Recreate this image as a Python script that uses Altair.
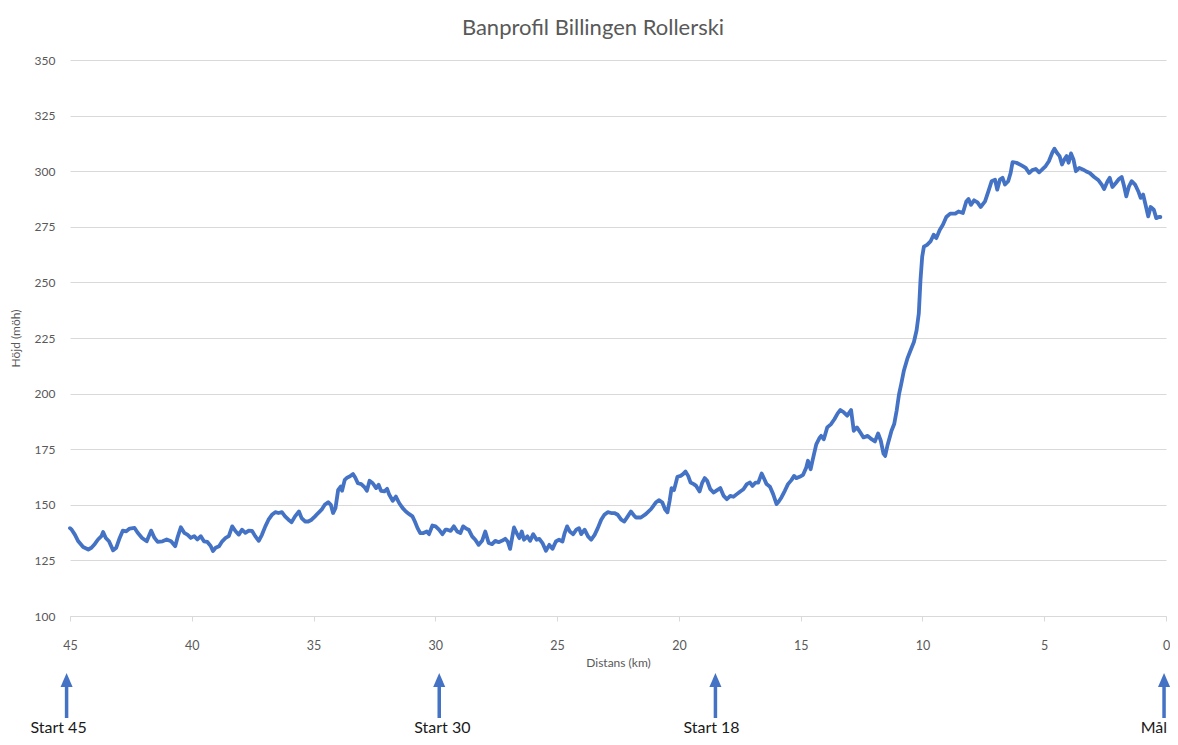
import altair as alt
import pandas as pd

# Distance (km from finish) and elevation (m above sea level)
km_vals = [45.0, 44.93, 44.8, 44.66, 44.46, 44.25, 44.12, 43.98, 43.85, 43.71, 43.64, 43.53, 43.4, 43.23, 43.1,
           42.96, 42.83, 42.69, 42.55, 42.35, 42.22, 42.04, 41.85, 41.67, 41.53, 41.4, 41.2, 41.03, 40.85, 40.68,
           40.59, 40.45, 40.31, 40.18, 40.04, 39.9, 39.77, 39.63, 39.5, 39.36, 39.22, 39.13, 39.02, 38.88, 38.75,
           38.61, 38.48, 38.34, 38.2, 38.07, 37.94, 37.8, 37.66, 37.53, 37.39, 37.25, 37.12, 36.98, 36.85, 36.71,
           36.57, 36.44, 36.3, 36.17, 36.03, 35.9, 35.76, 35.6, 35.49, 35.35, 35.22, 35.08, 34.94, 34.81, 34.67,
           34.54, 34.4, 34.29, 34.2, 34.1, 33.99, 33.88, 33.83, 33.72, 33.61, 33.52, 33.38, 33.29, 33.18, 33.04,
           32.9, 32.81, 32.7, 32.57, 32.43, 32.33, 32.23, 32.09, 31.98, 31.89, 31.75, 31.62, 31.48, 31.34, 31.21,
           31.07, 30.94, 30.84, 30.73, 30.62, 30.49, 30.35, 30.26, 30.12, 29.99, 29.85, 29.71, 29.58, 29.51, 29.37,
           29.24, 29.1, 28.97, 28.86, 28.72, 28.63, 28.49, 28.36, 28.22, 28.08, 27.95, 27.81, 27.67, 27.54, 27.4,
           27.27, 27.13, 27.03, 26.93, 26.82, 26.77, 26.66, 26.55, 26.45, 26.36, 26.22, 26.11, 25.98, 25.84, 25.73,
           25.6, 25.46, 25.32, 25.19, 25.05, 24.92, 24.78, 24.69, 24.59, 24.48, 24.34, 24.21, 24.1, 24.01, 23.87,
           23.73, 23.6, 23.46, 23.33, 23.19, 23.06, 22.92, 22.78, 22.65, 22.51, 22.37, 22.24, 22.1, 21.97, 21.83,
           21.76, 21.56, 21.36, 21.15, 20.95, 20.81, 20.68, 20.57, 20.47, 20.38, 20.3, 20.2, 20.06, 19.93, 19.83,
           19.73, 19.62, 19.52, 19.39, 19.29, 19.15, 19.04, 18.94, 18.84, 18.71, 18.57, 18.43, 18.3, 18.16, 18.03,
           17.89, 17.76, 17.62, 17.48, 17.35, 17.21, 17.08, 16.98, 16.85, 16.74, 16.6, 16.49, 16.4, 16.26, 16.13,
           15.99, 15.9, 15.79, 15.65, 15.52, 15.38, 15.27, 15.18, 15.04, 14.9, 14.77, 14.7, 14.59, 14.5, 14.36,
           14.22, 14.16, 14.05, 13.91, 13.75, 13.61, 13.48, 13.37, 13.23, 13.09, 12.93, 12.82, 12.69, 12.55, 12.42,
           12.25, 12.09, 11.95, 11.82, 11.71, 11.6, 11.53, 11.44, 11.27, 11.16, 11.06, 10.96, 10.87, 10.76, 10.62,
           10.49, 10.35, 10.24, 10.15, 10.08, 10.01, 9.94, 9.81, 9.67, 9.54, 9.43, 9.29, 9.16, 9.02, 8.86,
           8.65, 8.52, 8.34, 8.2, 8.11, 8.01, 7.88, 7.74, 7.61, 7.43, 7.29, 7.16, 7.02, 6.93, 6.82,
           6.71, 6.61, 6.48, 6.38, 6.3, 6.14, 5.93, 5.76, 5.62, 5.49, 5.35, 5.21, 5.08, 4.94, 4.81,
           4.67, 4.58, 4.48, 4.37, 4.27, 4.17, 4.08, 4.0, 3.9, 3.8, 3.7, 3.56, 3.42, 3.29, 3.13,
           2.95, 2.77, 2.64, 2.54, 2.4, 2.31, 2.2, 2.06, 1.93, 1.82, 1.72, 1.63, 1.52, 1.41, 1.27,
           1.14, 1.04, 0.94, 0.84, 0.73, 0.63, 0.5, 0.4, 0.29, 0.23]

elev_vals = [139.5, 138.8, 136.6, 133.6, 131.0, 129.9, 130.7, 132.4, 134.4, 135.9, 137.8, 135.1, 133.6, 129.5, 130.7,
             135.1, 138.4, 138.1, 139.3, 139.6, 137.4, 135.1, 133.6, 138.4, 135.1, 133.3, 133.6, 134.4, 133.6, 131.4,
             135.1, 139.9, 137.4, 136.6, 135.1, 135.9, 134.4, 135.9, 133.6, 133.3, 131.4, 129.2, 130.7, 131.4, 133.6,
             135.1, 135.9, 140.3, 138.1, 136.6, 138.8, 137.4, 138.4, 138.3, 135.8, 133.8, 136.5, 140.3, 143.3, 145.5,
             146.7, 146.3, 146.7, 144.8, 143.3, 142.2, 144.8, 147.0, 144.0, 142.5, 142.5, 143.3, 144.8, 146.3, 147.8,
             150.0, 151.2, 150.0, 146.3, 148.5, 156.7, 158.2, 156.3, 161.2, 162.3, 162.7, 163.8, 162.3, 159.7, 159.3,
             157.8, 156.3, 160.8, 159.7, 157.5, 159.0, 156.3, 156.0, 157.2, 154.5, 151.8, 153.7, 150.7, 148.5, 147.0,
             145.8, 144.8, 142.5, 139.5, 137.3, 137.3, 138.0, 136.8, 140.7, 140.3, 138.8, 136.8, 138.8, 138.8, 138.3,
             140.3, 138.0, 137.3, 140.3, 139.2, 138.8, 135.8, 134.3, 132.0, 133.8, 138.0, 132.8, 132.3, 133.8, 133.2,
             133.8, 134.7, 133.5, 130.2, 136.8, 139.8, 137.3, 135.0, 138.0, 134.3, 135.8, 133.8, 136.8, 134.3, 134.7,
             132.8, 129.3, 132.0, 130.2, 133.5, 134.3, 133.5, 137.3, 140.3, 138.0, 136.8, 138.8, 139.5, 136.8, 138.8,
             135.8, 134.3, 136.5, 139.5, 143.3, 145.5, 146.7, 146.3, 146.3, 145.5, 143.3, 142.5, 144.8, 147.0, 145.0,
             144.3, 144.3, 145.8, 148.0, 151.0, 152.1, 151.0, 148.0, 146.6, 151.8, 157.5, 156.6, 162.6, 163.0, 163.8,
             165.0, 163.0, 160.0, 159.3, 158.5, 156.0, 160.0, 162.0, 160.8, 157.0, 155.5, 156.6, 157.5, 154.0, 152.5,
             154.0, 153.6, 154.8, 156.0, 157.0, 159.3, 160.0, 158.5, 160.0, 160.0, 164.1, 161.5, 159.3, 158.1, 154.8,
             150.3, 151.5, 153.3, 156.3, 159.3, 161.1, 163.0, 162.0, 162.6, 163.5, 166.8, 169.8, 166.0, 170.5, 177.2,
             180.2, 181.0, 179.5, 184.8, 186.3, 188.6, 191.1, 192.6, 191.6, 190.1, 192.6, 183.3, 184.8, 182.5, 180.3,
             181.0, 179.5, 178.5, 182.1, 178.8, 173.0, 172.0, 176.5, 183.3, 186.3, 192.3, 199.8, 204.4, 210.4, 215.7,
             219.4, 223.2, 228.5, 236.0, 251.1, 261.6, 266.1, 266.9, 268.4, 271.4, 269.9, 273.6, 275.9, 279.4, 280.9,
             280.9, 281.9, 281.2, 286.4, 287.5, 284.9, 286.9, 286.0, 283.9, 286.4, 291.0, 295.5, 296.2, 291.7, 296.2,
             297.0, 294.0, 295.5, 299.2, 304.1, 303.8, 302.6, 301.5, 299.2, 300.5, 301.0, 299.5, 300.8, 302.3, 304.5,
             308.3, 310.1, 308.3, 306.8, 303.0, 305.3, 306.8, 303.8, 308.0, 305.3, 300.0, 301.5, 300.8, 300.0, 299.2,
             297.4, 295.9, 294.0, 292.0, 295.5, 297.0, 292.9, 294.7, 296.5, 297.4, 293.2, 288.7, 293.2, 295.5, 294.0,
             291.0, 288.0, 289.5, 284.9, 279.7, 283.9, 282.7, 278.9, 279.4, 279.4]

x_ticks = [45, 40, 35, 30, 25, 20, 15, 10, 5, 0]
y_ticks = [100, 125, 150, 175, 200, 225, 250, 275, 300, 325, 350]

marker_km = [45.14, 29.84, 18.5, 0.08]
label_km = [45.47, 29.71, 18.66, 0.5]
label_text = ["Start 45", "Start 30", "Start 18", "Mål"]

BLUE = "#4472C4"
GRAY = "#595959"
GRID = "#d9d9d9"
FONT = "Lato"

profile = pd.DataFrame({"km": km_vals, "h": elev_vals})
markers = pd.DataFrame({"km": marker_km})
labels = pd.DataFrame({"km": label_km, "label": label_text})

x_scale = alt.Scale(domain=[0, 45], reverse=True, nice=False, zero=False)
y_scale = alt.Scale(domain=[100, 350], nice=False, zero=False)

line = alt.Chart(profile).mark_line(
    color=BLUE, strokeWidth=3.8, strokeJoin="round", strokeCap="round"
).encode(
    x=alt.X("km:Q", scale=x_scale, axis=alt.Axis(
        values=x_ticks, title="Distans (km)", grid=False, domainColor=GRID,
        tickColor=GRID, tickSize=5, labelPadding=18, labelFontSize=12.5,
        labelColor=GRAY, labelFont=FONT, titleFont=FONT, titleFontSize=12,
        titleColor=GRAY, titleFontWeight="normal", titlePadding=6, labelFlush=False)),
    y=alt.Y("h:Q", scale=y_scale, axis=alt.Axis(
        values=y_ticks, title="Höjd (möh)", grid=True, gridColor=GRID, domain=False,
        ticks=False, labelPadding=15, labelFontSize=12, labelColor=GRAY, labelFont=FONT,
        titleFont=FONT, titleFontSize=12, titleColor=GRAY, titleFontWeight="normal",
        titlePadding=12)),
)

shaft = alt.Chart(markers).mark_rule(color=BLUE, strokeWidth=3.5).encode(
    x=alt.X("km:Q", scale=x_scale),
    y=alt.value(658),
    y2=alt.value(624),
)

head = alt.Chart(markers).mark_point(
    shape="M0,-1L-0.86,1L0.86,1Z", filled=True, color=BLUE, opacity=1, size=196
).encode(
    x=alt.X("km:Q", scale=x_scale),
    y=alt.value(620),
)

text = alt.Chart(labels).mark_text(
    font=FONT, fontSize=16, color="#1a1a1a", baseline="alphabetic", align="center"
).encode(
    x=alt.X("km:Q", scale=x_scale),
    y=alt.value(673),
    text="label:N",
)

chart = alt.layer(line, shaft, head, text).properties(
    width=1096,
    height=556,
    padding={"left": 62, "top": 52, "right": 4, "bottom": 121},
    autosize=alt.AutoSizeParams(type="none"),
    title=alt.TitleParams(
        "Banprofil Billingen Rollerski", font=FONT, fontSize=22, color=GRAY,
        fontWeight="normal", anchor="middle", dx=-25, offset=14),
).configure_view(stroke=None)

chart.save("out.html", embed_options={"renderer": "svg", "actions": False})
